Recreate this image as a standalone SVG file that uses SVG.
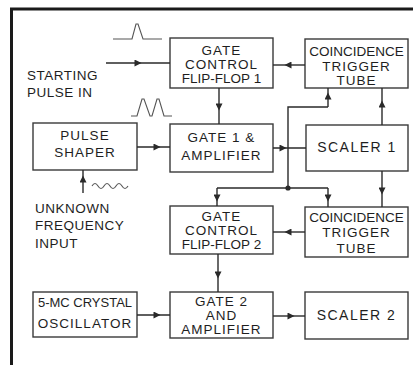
<svg xmlns="http://www.w3.org/2000/svg" width="415" height="365" viewBox="0 0 415 365">
<defs>
<marker id="ah" viewBox="0 0 10 10" refX="5" refY="5" markerWidth="8" markerHeight="7" markerUnits="userSpaceOnUse" orient="auto">
<path d="M0,0 L10,5 L0,10 Z" fill="#2a2a2a"/>
</marker>
<style>
.box{fill:#fff;stroke:#3a3a3a;stroke-width:1.4}
.t{font-family:"Liberation Sans",Arial,sans-serif;font-size:13.5px;fill:#1e1e1e;text-anchor:middle;letter-spacing:1px}
.tl{font-family:"Liberation Sans",Arial,sans-serif;font-size:13.5px;fill:#1e1e1e;letter-spacing:0.5px}
.n{letter-spacing:0}
.c{fill:none;stroke:#2a2a2a;stroke-width:1.4}
.a{marker-mid:url(#ah)}
.w{fill:none;stroke:#555;stroke-width:1.1}
</style>
</defs>
<rect width="415" height="365" fill="#fff"/>
<g id="frame">
<path d="M11.5,365 L11.5,9 L413,9" fill="none" stroke="#1a1a1a" stroke-width="3"/>
</g>
<g id="gcff1"><rect class="box" x="170" y="38" width="103" height="50"/>
<text class="t" x="221.5" y="55">GATE</text><text class="t" x="221.5" y="69">CONTROL</text><text class="t n" x="221.5" y="83">FLIP-FLOP 1</text></g>
<g id="coinc1"><rect class="box" x="305" y="39" width="103" height="49"/>
<text class="t n" x="356.5" y="56">COINCIDENCE</text><text class="t" x="356.5" y="71">TRIGGER</text><text class="t" x="356.5" y="85">TUBE</text></g>
<g id="shaper"><rect class="box" x="33" y="123" width="104" height="47"/>
<text class="t" x="85" y="140">PULSE</text><text class="t" x="85" y="157">SHAPER</text></g>
<g id="gate1"><rect class="box" x="170" y="124" width="103" height="48"/>
<text class="t" x="221.5" y="142">GATE 1 &amp;</text><text class="t" x="221.5" y="160">AMPLIFIER</text></g>
<g id="scaler1"><rect class="box" x="306" y="125" width="102" height="46"/>
<text class="t" x="357" y="152" style="font-size:14px;letter-spacing:1.5px">SCALER 1</text></g>
<g id="gcff2"><rect class="box" x="170" y="206" width="103" height="48"/>
<text class="t" x="221.5" y="221">GATE</text><text class="t" x="221.5" y="235">CONTROL</text><text class="t n" x="221.5" y="249">FLIP-FLOP 2</text></g>
<g id="coinc2"><rect class="box" x="305" y="207" width="103" height="50"/>
<text class="t n" x="356.5" y="222">COINCIDENCE</text><text class="t" x="356.5" y="237">TRIGGER</text><text class="t" x="356.5" y="253">TUBE</text></g>
<g id="osc"><rect class="box" x="33" y="292" width="104" height="45"/>
<text class="t n" x="85" y="307" style="font-size:13px">5-MC CRYSTAL</text><text class="t" x="85" y="328">OSCILLATOR</text></g>
<g id="gate2"><rect class="box" x="170" y="292" width="103" height="46"/>
<text class="t" x="221.5" y="306">GATE 2</text><text class="t" x="221.5" y="320">AND</text><text class="t" x="221.5" y="334">AMPLIFIER</text></g>
<g id="scaler2"><rect class="box" x="305" y="292" width="103" height="47"/>
<text class="t" x="356.5" y="320" style="font-size:14px;letter-spacing:1.5px">SCALER 2</text></g>
<g id="labels">
<text class="tl" x="27" y="80">STARTING</text><text class="tl" x="27" y="97">PULSE IN</text>
<text class="tl" x="35" y="213">UNKNOWN</text><text class="tl" x="35" y="230">FREQUENCY</text><text class="tl" x="35" y="248">INPUT</text>
</g>
<g id="waveforms">
<path class="w" d="M113,39 L132,39 L136,24 L138,24 L143,39 L162,39"/>
<path class="w" d="M131,116 L137,116 L142,99 L144,99 L150,116 L152,116 L157,99 L159,99 L164,116 L172,116"/>
<path class="w" d="M92,186 q3,-5 6,0 t6,0 t6,0 t6,0 t6,0 t6,0"/>
</g>
<g id="connectors">
<path class="c a" d="M106,63 L138,63 L170,63"/>
<path class="c a" d="M305,65 L288,65 L273,65"/>
<path class="c a" d="M219,88 L219,107 L219,124"/>
<path class="c a" d="M137,147 L157,147 L170,147"/>
<path class="c a" d="M273,148 L283,148 L306,148"/>
<path class="c" d="M288,188 L288,107 L328,107"/>
<path class="c a" d="M328,107 L328,96 L328,88"/>
<path class="c a" d="M382,125 L382,104 L382,88"/>
<path class="c a" d="M382,171 L382,191 L382,207"/>
<path class="c" d="M217,188 L328,188"/>
<path class="c a" d="M217,188 L217,198 L217,206"/>
<path class="c a" d="M328,188 L328,198 L328,207"/>
<circle cx="288" cy="188" r="2.6" fill="#2a2a2a"/>
<path class="c a" d="M305,232 L288,232 L273,232"/>
<path class="c a" d="M218,254 L218,275 L218,292"/>
<path class="c a" d="M137,315 L157,315 L170,315"/>
<path class="c a" d="M273,316 L291,316 L305,316"/>
<path class="c a" d="M83,193 L83,179 L83,170"/>
</g>
</svg>
